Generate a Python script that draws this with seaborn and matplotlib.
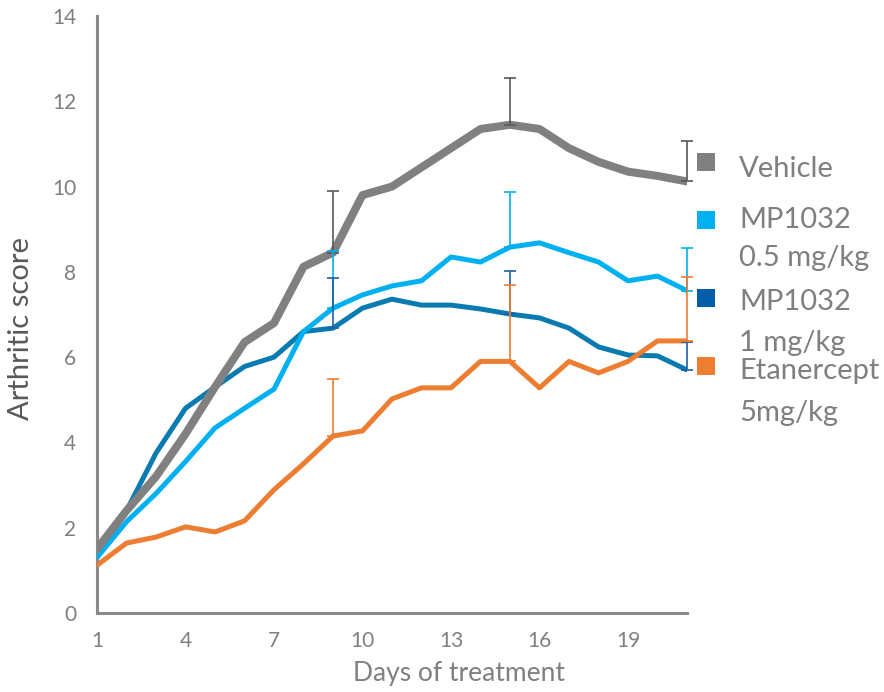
import pandas as pd
import matplotlib.pyplot as plt
import seaborn as sns
from matplotlib.patches import Rectangle

# Data
days = list(range(1, 22))
vehicle = [1.5, 2.4, 3.2, 4.2, 5.3, 6.35, 6.8, 8.12, 8.45, 9.8, 10.0, 10.45, 10.9, 11.35,
           11.45, 11.35, 10.9, 10.58, 10.35, 10.25, 10.12]
mp_05 = [1.3, 2.14, 2.8, 3.55, 4.34, 4.8, 5.25, 6.6, 7.15, 7.46, 7.67, 7.79, 8.35, 8.23,
         8.58, 8.68, 8.45, 8.23, 7.79, 7.9, 7.56]
mp_1 = [1.3, 2.4, 3.75, 4.8, 5.3, 5.78, 6.0, 6.6, 6.68, 7.15, 7.36, 7.22, 7.22, 7.13,
        7.01, 6.92, 6.68, 6.24, 6.05, 6.03, 5.7]
etanercept = [1.12, 1.64, 1.78, 2.02, 1.9, 2.16, 2.89, 3.5, 4.15, 4.27, 5.02, 5.28, 5.28,
              5.9, 5.9, 5.28, 5.9, 5.63, 5.9, 6.38, 6.38]

# upper error bars (SEM) at days 9, 15 and 21
err_days = [9, 15, 21]
vehicle_err = [1.45, 1.1, 0.95]
mp_05_err = [1.35, 1.3, 1.0]
mp_1_err = [1.18, 1.0, 0.66]
etanercept_err = [1.33, 1.8, 1.5]

groups = ["Vehicle", "MP1032 0.5 mg/kg", "MP1032 1 mg/kg", "Etanercept 5mg/kg"]
legend_lines = [["Vehicle"], ["MP1032", "0.5 mg/kg"], ["MP1032", "1 mg/kg"],
                ["Etanercept", "5mg/kg"]]
series = {groups[0]: vehicle, groups[1]: mp_05, groups[2]: mp_1, groups[3]: etanercept}
errors = {groups[0]: vehicle_err, groups[1]: mp_05_err, groups[2]: mp_1_err,
          groups[3]: etanercept_err}

line_colors = {groups[0]: "#808080", groups[1]: "#00B0F0", groups[2]: "#0A7BB0",
               groups[3]: "#ED7D31"}
err_colors = {groups[0]: "#595959", groups[1]: "#00B0F0", groups[2]: "#1F5FA8",
              groups[3]: "#ED7D31"}
legend_colors = {groups[0]: "#808080", groups[1]: "#00B0F0", groups[2]: "#005DA8",
                 groups[3]: "#ED7D31"}
widths = {groups[0]: 5.8, groups[1]: 3.6, groups[2]: 3.6, groups[3]: 3.6}

df = pd.DataFrame([
    {"day": d, "score": v, "group": g}
    for g in groups for d, v in zip(days, series[g])
])

sns.set_style("white")
plt.rcParams["font.family"] = ["Lato", "DejaVu Sans"]

fig = plt.figure(figsize=(8.84, 6.92), dpi=100)
ax = fig.add_axes([97 / 884, 79 / 692, 590 / 884, 597 / 692])

draw_order = [groups[2], groups[1], groups[0], groups[3]]
for z, g in enumerate(draw_order):
    sns.lineplot(data=df[df["group"] == g], x="day", y="score", color=line_colors[g],
                 linewidth=widths[g], ax=ax, zorder=2 + z, legend=False)

# error bars drawn on top of the lines
for z, g in enumerate(groups):
    means = [series[g][days.index(d)] for d in err_days]
    ax.errorbar(err_days, means, yerr=[[0] * len(err_days), errors[g]], fmt="none",
                ecolor=err_colors[g], elinewidth=1.2, capsize=4.5, capthick=1.2,
                zorder=10 + z, clip_on=False)

ax.set_xlim(1, 21)
ax.set_ylim(0, 14)
ax.set_xticks([1, 4, 7, 10, 13, 16, 19])
ax.set_yticks(range(0, 15, 2))
ax.tick_params(axis="both", colors="#898989", labelcolor="#7F7F7F", labelsize=15,
               length=5, width=2.2, direction="out")
ax.tick_params(axis="x", pad=8)
ax.tick_params(axis="y", pad=10)
for side in ["top", "right"]:
    ax.spines[side].set_visible(False)
for side in ["left", "bottom"]:
    ax.spines[side].set_color("#898989")
    ax.spines[side].set_linewidth(2.2)
ax.set_xlabel("Days of treatment", fontsize=19, color="#7F7F7F")
ax.xaxis.set_label_coords(0.614, -0.08)
ax.set_ylabel("Arthritic score", fontsize=21, color="#595959")
ax.yaxis.set_label_coords(-0.106, 0.477)

# legend on the right, laid out like the original
square_y = [162, 220, 298, 366]
text_base = [[177], [228, 266], [310, 351], [379, 421]]
for g, sy, lines, bases in zip(groups, square_y, legend_lines, text_base):
    fig.add_artist(Rectangle((697 / 884, 1 - (sy + 9) / 692), 18 / 884, 18 / 692,
                             transform=fig.transFigure, color=legend_colors[g], lw=0))
    for txt, b in zip(lines, bases):
        fig.text(739 / 884, 1 - b / 692, txt, fontsize=21, color="#7F7F7F",
                 va="baseline", ha="left")

plt.savefig("out.png", dpi=100)
